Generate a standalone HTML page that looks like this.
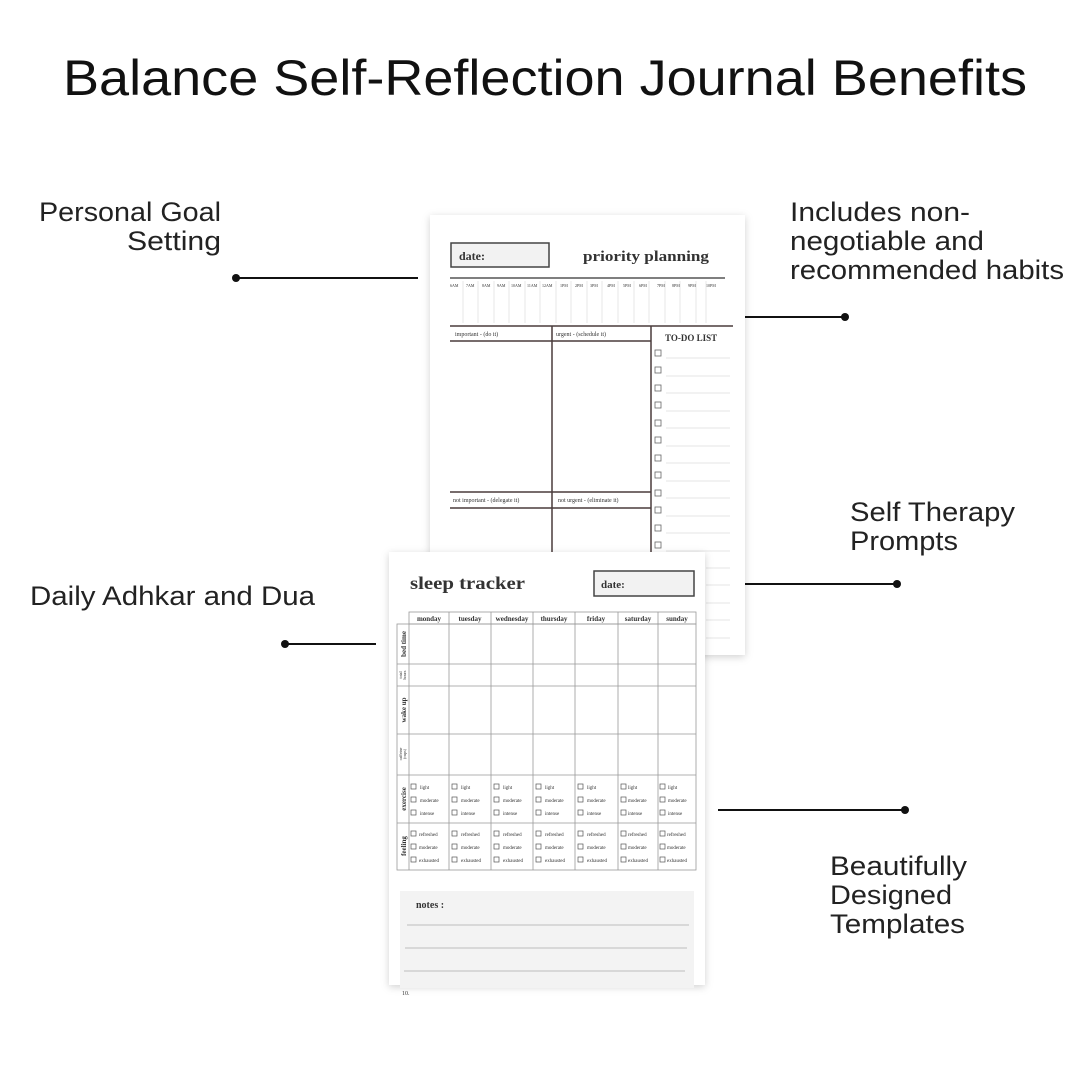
<!DOCTYPE html>
<html><head><meta charset="utf-8"><style>
html,body{margin:0;padding:0;background:#fff;}
svg{display:block}
.lab{font-family:"Liberation Sans",sans-serif;font-size:27px;fill:#222;}
.se{font-family:"Liberation Serif",serif;fill:#333;}
</style></head><body>
<svg width="1080" height="1080" viewBox="0 0 1080 1080" xmlns="http://www.w3.org/2000/svg">
<defs>
<filter id="sh" x="-10%" y="-10%" width="120%" height="120%"><feDropShadow dx="0" dy="2" stdDeviation="4" flood-color="#000" flood-opacity="0.18"/></filter>
</defs>
<rect width="1080" height="1080" fill="#fff"/>
<text x="63" y="95" textLength="964" lengthAdjust="spacingAndGlyphs" font-family="Liberation Sans, sans-serif" font-size="50" fill="#111">Balance Self-Reflection Journal Benefits</text>

<!-- labels -->
<text class="lab" x="39" y="221" textLength="182" lengthAdjust="spacingAndGlyphs">Personal Goal</text>
<text class="lab" x="127" y="250" textLength="94" lengthAdjust="spacingAndGlyphs">Setting</text>
<text class="lab" x="790" y="221" textLength="180" lengthAdjust="spacingAndGlyphs">Includes non-</text>
<text class="lab" x="790" y="250" textLength="194" lengthAdjust="spacingAndGlyphs">negotiable and</text>
<text class="lab" x="790" y="279" textLength="274" lengthAdjust="spacingAndGlyphs">recommended habits</text>
<text class="lab" x="850" y="521" textLength="165" lengthAdjust="spacingAndGlyphs">Self Therapy</text>
<text class="lab" x="850" y="550" textLength="108" lengthAdjust="spacingAndGlyphs">Prompts</text>
<text class="lab" x="30" y="605" textLength="285" lengthAdjust="spacingAndGlyphs">Daily Adhkar and Dua</text>
<text class="lab" x="830" y="875" textLength="137" lengthAdjust="spacingAndGlyphs">Beautifully</text>
<text class="lab" x="830" y="904" textLength="122" lengthAdjust="spacingAndGlyphs">Designed</text>
<text class="lab" x="830" y="933" textLength="135" lengthAdjust="spacingAndGlyphs">Templates</text>

<!-- connectors -->
<g stroke="#111" stroke-width="2">
<line x1="236" y1="278" x2="418" y2="278"/>
<line x1="285" y1="644" x2="376" y2="644"/>
<line x1="745" y1="317" x2="845" y2="317"/>
<line x1="745" y1="584" x2="897" y2="584"/>
<line x1="718" y1="810" x2="905" y2="810"/>
</g>
<g fill="#111">
<circle cx="236" cy="278" r="4"/><circle cx="285" cy="644" r="4"/>
<circle cx="845" cy="317" r="4"/><circle cx="897" cy="584" r="4"/><circle cx="905" cy="810" r="4"/>
</g>

<!-- Page 1: priority planning -->
<rect x="430" y="215" width="315" height="440" fill="#fff" filter="url(#sh)"/>
<rect x="451" y="243" width="98" height="24" fill="#f2f2f2" stroke="#444" stroke-width="1.5"/>
<text class="se" x="459" y="260" font-size="12" font-weight="bold">date:</text>
<text class="se" x="583" y="261" font-size="15" font-weight="bold" fill="#222" textLength="126" lengthAdjust="spacingAndGlyphs">priority planning</text>
<line x1="450" y1="278" x2="725" y2="278" stroke="#555" stroke-width="1.5"/>
<g class="se" font-size="4" fill="#555">
<text x="450" y="287">6AM</text><text x="466" y="287">7AM</text><text x="482" y="287">8AM</text><text x="497" y="287">9AM</text><text x="511" y="287">10AM</text><text x="527" y="287">11AM</text><text x="542" y="287">12AM</text><text x="560" y="287">1PM</text><text x="575" y="287">2PM</text><text x="590" y="287">3PM</text><text x="607" y="287">4PM</text><text x="623" y="287">5PM</text><text x="639" y="287">6PM</text><text x="657" y="287">7PM</text><text x="672" y="287">8PM</text><text x="688" y="287">9PM</text><text x="706" y="287">10PM</text>
</g>
<g stroke="#ddd" stroke-width="0.7">
<line x1="463" y1="281" x2="463" y2="323"/><line x1="478" y1="281" x2="478" y2="323"/><line x1="494" y1="281" x2="494" y2="323"/><line x1="509" y1="281" x2="509" y2="323"/><line x1="525" y1="281" x2="525" y2="323"/><line x1="540" y1="281" x2="540" y2="323"/><line x1="556" y1="281" x2="556" y2="323"/><line x1="571" y1="281" x2="571" y2="323"/><line x1="587" y1="281" x2="587" y2="323"/><line x1="602" y1="281" x2="602" y2="323"/><line x1="618" y1="281" x2="618" y2="323"/><line x1="634" y1="281" x2="634" y2="323"/><line x1="649" y1="281" x2="649" y2="323"/><line x1="665" y1="281" x2="665" y2="323"/><line x1="680" y1="281" x2="680" y2="323"/><line x1="696" y1="281" x2="696" y2="323"/><line x1="706" y1="281" x2="706" y2="323"/>
</g>
<g stroke="#4a3c3c" stroke-width="1.5">
<line x1="450" y1="326" x2="733" y2="326"/>
<line x1="552" y1="326" x2="552" y2="560"/>
<line x1="651" y1="326" x2="651" y2="560"/>
<line x1="450" y1="341" x2="651" y2="341"/>
<line x1="450" y1="492" x2="651" y2="492"/>
<line x1="450" y1="508" x2="651" y2="508"/>
</g>
<g class="se" font-size="6" fill="#333">
<text x="455" y="336">important - (do it)</text>
<text x="556" y="336">urgent - (schedule it)</text>
<text x="453" y="502">not important - (delegate it)</text>
<text x="558" y="502">not urgent - (eliminate it)</text>
</g>
<text class="se" x="665" y="341" font-size="9" font-weight="bold" fill="#333">TO-DO LIST</text>
<g fill="none" stroke="#666" stroke-width="0.8">
<rect x="655" y="350" width="6" height="6"/><rect x="655" y="367" width="6" height="6"/><rect x="655" y="385" width="6" height="6"/><rect x="655" y="402" width="6" height="6"/><rect x="655" y="420" width="6" height="6"/><rect x="655" y="437" width="6" height="6"/><rect x="655" y="455" width="6" height="6"/><rect x="655" y="472" width="6" height="6"/><rect x="655" y="490" width="6" height="6"/><rect x="655" y="507" width="6" height="6"/><rect x="655" y="525" width="6" height="6"/><rect x="655" y="542" width="6" height="6"/>
</g>
<g stroke="#ddd" stroke-width="0.7">
<line x1="666" y1="358" x2="730" y2="358"/><line x1="666" y1="376" x2="730" y2="376"/><line x1="666" y1="393" x2="730" y2="393"/><line x1="666" y1="411" x2="730" y2="411"/><line x1="666" y1="428" x2="730" y2="428"/><line x1="666" y1="446" x2="730" y2="446"/><line x1="666" y1="463" x2="730" y2="463"/><line x1="666" y1="481" x2="730" y2="481"/><line x1="666" y1="498" x2="730" y2="498"/><line x1="666" y1="516" x2="730" y2="516"/><line x1="666" y1="533" x2="730" y2="533"/><line x1="666" y1="551" x2="730" y2="551"/><line x1="706" y1="568" x2="730" y2="568"/><line x1="706" y1="585" x2="730" y2="585"/><line x1="706" y1="603" x2="730" y2="603"/><line x1="706" y1="620" x2="730" y2="620"/><line x1="706" y1="638" x2="730" y2="638"/>
</g>

<!-- Page 2: sleep tracker -->
<rect x="389" y="552" width="316" height="433" fill="#fff" filter="url(#sh)"/>
<text class="se" x="410" y="589" font-size="18" font-weight="bold" fill="#1a1a1a" textLength="115" lengthAdjust="spacingAndGlyphs">sleep tracker</text>
<rect x="594" y="571" width="100" height="25" fill="#f2f2f2" stroke="#444" stroke-width="1.5"/>
<text class="se" x="601" y="588" font-size="11" font-weight="bold">date:</text>
<g stroke="#999" stroke-width="0.8" fill="none">
<rect x="409" y="612" width="287" height="12"/>
<rect x="397" y="624" width="299" height="246"/>
<line x1="409" y1="624" x2="409" y2="870"/>
<line x1="449" y1="612" x2="449" y2="870"/><line x1="491" y1="612" x2="491" y2="870"/><line x1="533" y1="612" x2="533" y2="870"/><line x1="575" y1="612" x2="575" y2="870"/><line x1="618" y1="612" x2="618" y2="870"/><line x1="658" y1="612" x2="658" y2="870"/>
<line x1="397" y1="664" x2="696" y2="664"/><line x1="397" y1="686" x2="696" y2="686"/><line x1="397" y1="734" x2="696" y2="734"/><line x1="397" y1="775" x2="696" y2="775"/><line x1="397" y1="823" x2="696" y2="823"/>
</g>
<g class="se" font-size="7" font-weight="bold" fill="#333" text-anchor="middle">
<text x="429" y="621">monday</text><text x="470" y="621">tuesday</text><text x="512" y="621">wednesday</text><text x="554" y="621">thursday</text><text x="596" y="621">friday</text><text x="638" y="621">saturday</text><text x="677" y="621">sunday</text>
</g>
<g class="se" font-size="7" font-weight="bold" fill="#333" text-anchor="middle">
<text transform="translate(406,644) rotate(-90)">bed time</text>
<text transform="translate(406,710) rotate(-90)">wake up</text>
<text transform="translate(406,799) rotate(-90)">exercise</text>
<text transform="translate(406,846) rotate(-90)">feeling</text>
</g>
<g class="se" font-size="4" fill="#333" text-anchor="middle">
<text transform="translate(402,675) rotate(-90)">total</text><text transform="translate(406,675) rotate(-90)">hours</text>
<text transform="translate(402,754) rotate(-90)">caffeine</text><text transform="translate(406,754) rotate(-90)">(cups)</text>
</g>
<g fill="none" stroke="#555" stroke-width="0.7">
<rect x="411" y="784" width="5" height="5"/><rect x="411" y="797" width="5" height="5"/><rect x="411" y="810" width="5" height="5"/><rect x="411" y="831" width="5" height="5"/><rect x="411" y="844" width="5" height="5"/><rect x="411" y="857" width="5" height="5"/>
<rect x="452" y="784" width="5" height="5"/><rect x="452" y="797" width="5" height="5"/><rect x="452" y="810" width="5" height="5"/><rect x="452" y="831" width="5" height="5"/><rect x="452" y="844" width="5" height="5"/><rect x="452" y="857" width="5" height="5"/>
<rect x="494" y="784" width="5" height="5"/><rect x="494" y="797" width="5" height="5"/><rect x="494" y="810" width="5" height="5"/><rect x="494" y="831" width="5" height="5"/><rect x="494" y="844" width="5" height="5"/><rect x="494" y="857" width="5" height="5"/>
<rect x="536" y="784" width="5" height="5"/><rect x="536" y="797" width="5" height="5"/><rect x="536" y="810" width="5" height="5"/><rect x="536" y="831" width="5" height="5"/><rect x="536" y="844" width="5" height="5"/><rect x="536" y="857" width="5" height="5"/>
<rect x="578" y="784" width="5" height="5"/><rect x="578" y="797" width="5" height="5"/><rect x="578" y="810" width="5" height="5"/><rect x="578" y="831" width="5" height="5"/><rect x="578" y="844" width="5" height="5"/><rect x="578" y="857" width="5" height="5"/>
<rect x="621" y="784" width="5" height="5"/><rect x="621" y="797" width="5" height="5"/><rect x="621" y="810" width="5" height="5"/><rect x="621" y="831" width="5" height="5"/><rect x="621" y="844" width="5" height="5"/><rect x="621" y="857" width="5" height="5"/>
<rect x="660" y="784" width="5" height="5"/><rect x="660" y="797" width="5" height="5"/><rect x="660" y="810" width="5" height="5"/><rect x="660" y="831" width="5" height="5"/><rect x="660" y="844" width="5" height="5"/><rect x="660" y="857" width="5" height="5"/>
</g>
<g class="se" font-size="5" fill="#555">
<text x="420" y="789">light</text><text x="420" y="802">moderate</text><text x="420" y="815">intense</text><text x="419" y="836">refreshed</text><text x="419" y="849">moderate</text><text x="419" y="862">exhausted</text>
<text x="461" y="789">light</text><text x="461" y="802">moderate</text><text x="461" y="815">intense</text><text x="461" y="836">refreshed</text><text x="461" y="849">moderate</text><text x="461" y="862">exhausted</text>
<text x="503" y="789">light</text><text x="503" y="802">moderate</text><text x="503" y="815">intense</text><text x="503" y="836">refreshed</text><text x="503" y="849">moderate</text><text x="503" y="862">exhausted</text>
<text x="545" y="789">light</text><text x="545" y="802">moderate</text><text x="545" y="815">intense</text><text x="545" y="836">refreshed</text><text x="545" y="849">moderate</text><text x="545" y="862">exhausted</text>
<text x="587" y="789">light</text><text x="587" y="802">moderate</text><text x="587" y="815">intense</text><text x="587" y="836">refreshed</text><text x="587" y="849">moderate</text><text x="587" y="862">exhausted</text>
<text x="628" y="789">light</text><text x="628" y="802">moderate</text><text x="628" y="815">intense</text><text x="628" y="836">refreshed</text><text x="628" y="849">moderate</text><text x="628" y="862">exhausted</text>
<text x="668" y="789">light</text><text x="668" y="802">moderate</text><text x="668" y="815">intense</text><text x="667" y="836">refreshed</text><text x="667" y="849">moderate</text><text x="667" y="862">exhausted</text>
</g>
<rect x="400" y="891" width="294" height="97" fill="#f3f3f3"/>
<text class="se" x="416" y="908" font-size="10" font-weight="bold" fill="#222">notes :</text>
<g stroke="#aaa" stroke-width="0.8">
<line x1="407" y1="925" x2="689" y2="925"/><line x1="405" y1="948" x2="687" y2="948"/><line x1="404" y1="971" x2="685" y2="971"/>
</g>
<text class="se" x="402" y="995" font-size="6" fill="#555">10.</text>
</svg>
</body></html>
